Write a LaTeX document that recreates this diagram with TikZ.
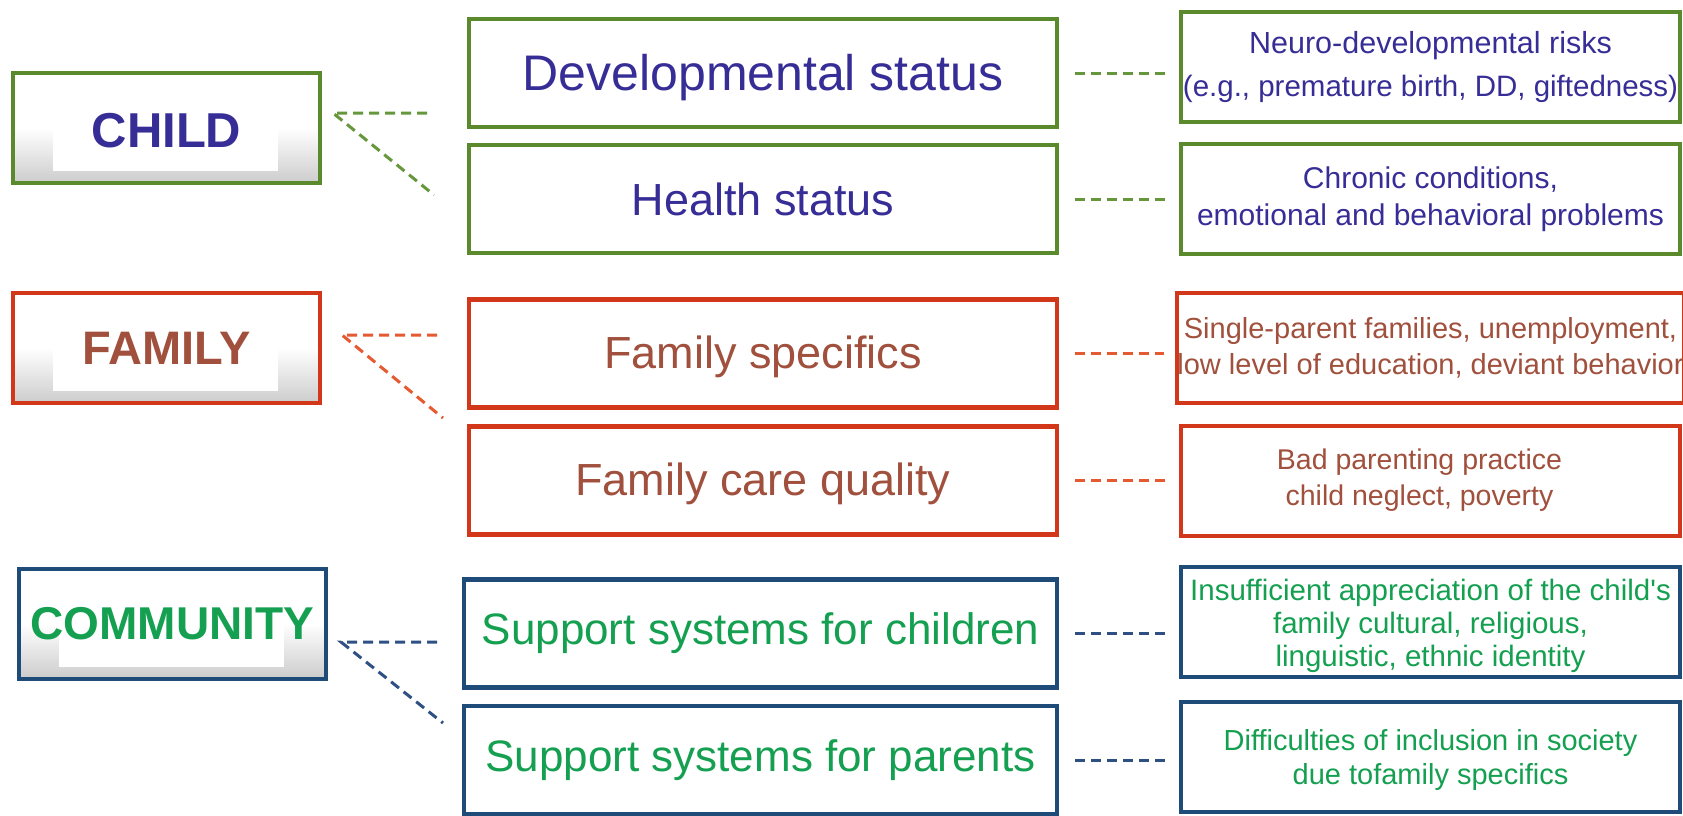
\documentclass[tikz,border=0pt]{standalone}
\usepackage{fontspec}
\setmainfont{Liberation Sans}
\definecolor{cgreen}{HTML}{5B8A2D}
\definecolor{cred}{HTML}{D2371A}
\definecolor{cblue}{HTML}{1E4B78}
\definecolor{tpurple}{HTML}{372D96}
\definecolor{tbrown}{HTML}{A0503C}
\definecolor{tgreen}{HTML}{14A050}
\definecolor{dgreen}{HTML}{67973C}
\definecolor{dred}{HTML}{E65A32}
\definecolor{dblue}{HTML}{2E5082}
\newcommand{\fs}[1]{\fontsize{#1}{1.2\dimexpr#1pt\relax}\selectfont}
\begin{document}
\begin{tikzpicture}[x=1pt,y=-1pt,
  leftbox/.style={draw=#1, line width=4pt, minimum width=307pt, minimum height=110pt,
    inner sep=0pt, top color=white, bottom color=black!20, middle color=white,
    font=\fontsize{47}{56}\selectfont\bfseries,
    path picture={\fill[white] ([xshift=40pt]path picture bounding box.north west)
      rectangle ([xshift=-42pt,yshift=12pt]path picture bounding box.south east);}},
  midbox/.style={draw=#1, line width=4.5pt, minimum width=588pt, minimum height=108pt,
    inner sep=0pt, fill=white, font=\fontsize{45}{54}\selectfont},
  riskbox/.style={draw=#1, line width=4pt, minimum width=499pt, minimum height=110pt,
    inner sep=0pt, fill=white, align=center, font=\fontsize{29}{36}\selectfont},
  dashlink/.style={draw=#1, line width=3pt, dash pattern=on 10pt off 6pt}]
\useasboundingbox (0,0) rectangle (1683,816);
\fill[white] (0,0) rectangle (1683,816);

% domain boxes
\node[leftbox=cgreen, text=tpurple, font=\fontsize{49}{56}\selectfont\bfseries,
      text height=38pt, text depth=0pt] (child) at (166.5,128) {CHILD};
\node[leftbox=cred, text=tbrown] (family) at (166.5,348) {FAMILY};
\node[leftbox=cblue, text=tgreen, font=\fontsize{46}{56}\selectfont\bfseries] (community) at (172.5,623.5) {COMMUNITY};

% factor boxes
\node[midbox=cgreen, text=tpurple, font=\fontsize{50}{60}\selectfont,
      text height=46pt, text depth=10.5pt] (dev) at (763,73) {Developmental status};
\node[midbox=cgreen, text=tpurple] (health) at (763,199) {Health status};
\node[midbox=cred, text=tbrown, text height=40pt, text depth=9.5pt] (fspec) at (763,353.5) {Family specifics};
\node[midbox=cred, text=tbrown, text height=40pt, text depth=9.5pt] (fcare) at (763,480.5) {Family care quality};
\node[midbox=cblue, text=tgreen, minimum width=593pt, font=\fontsize{44}{52}\selectfont] (supch) at (760.5,633.5) {Support systems for children};
\node[midbox=cblue, text=tgreen, minimum width=593pt, font=\fontsize{44}{52}\selectfont] (suppa) at (760.5,760) {Support systems for parents};

% risk boxes
\node[riskbox=cgreen, text=tpurple, font=\fontsize{29.5}{43}\selectfont] (neuro) at (1430.5,67)
  {{\fs{30.5}Neuro-developmental risks}\\(e.g., premature birth, DD, giftedness)};
\node[riskbox=cgreen, text=tpurple, font=\fontsize{30}{37}\selectfont] (chronic) at (1430.5,199)
  {Chronic conditions,\\emotional and behavioral problems};
\node[riskbox=cred, text=tbrown] (single) at (1430.5,348)
  {Single-parent families, unemployment,\\low level of education, deviant behavior};
\draw[cred, line width=4pt] (single.north east) -- (single.south east);
\node[riskbox=cred, text=tbrown, font=\fontsize{28.5}{36}\selectfont] (bad) at (1430.5,480.5)
  {Bad parenting practice\hspace*{22pt}\\child neglect, poverty\hspace*{22pt}};
\node[riskbox=cblue, text=tgreen, font=\fontsize{29.5}{33}\selectfont] (insuf) at (1430.5,622)
  {\rule{0pt}{29pt}Insufficient appreciation of the child\textquotesingle s\\family cultural, religious,\\linguistic, ethnic identity};
\node[riskbox=cblue, text=tgreen, font=\fontsize{29}{34}\selectfont] (diff) at (1430.5,757)
  {\rule{0pt}{27pt}Difficulties of inclusion in society\\due tofamily specifics};

% factor -> risk connectors
\foreach \a/\b/\c in {dev/neuro/dgreen, health/chronic/dgreen, fspec/single/dred,
                      fcare/bad/dred, supch/insuf/dblue, suppa/diff/dblue}
  \draw[dashlink=\c, shorten <=16pt, shorten >=11pt] (\a.east) -- (\a.east -| \b.west);

% domain -> factor fans
\coordinate (childtip) at (333,113);
\coordinate (childh) at (427,113);
\coordinate (childd) at (434,195);
\draw[dashlink=dgreen] (childh) -- (childtip) -- (childd);
\coordinate (famtip) at (342,335);
\coordinate (famh) at (437,335);
\coordinate (famd) at (443,418);
\draw[dashlink=dred] (famh) -- (famtip) -- (famd);
\coordinate (comtip) at (341,642);
\coordinate (comh) at (437,642);
\coordinate (comd) at (443,723);
\draw[dashlink=dblue] (comh) -- (comtip) -- (comd);
\end{tikzpicture}
\end{document}
